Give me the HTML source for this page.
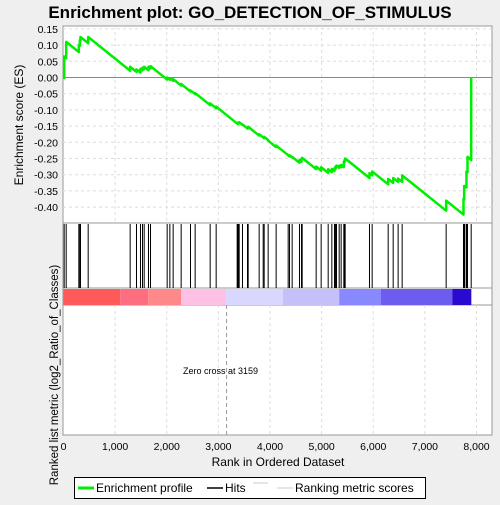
<!DOCTYPE html>
<html><head><meta charset="utf-8"><style>
body{margin:0;background:#efefef;font-family:"Liberation Sans",sans-serif}
svg text{font-family:"Liberation Sans",sans-serif}
</style></head><body>
<svg id="chart" width="500" height="500" viewBox="0 0 500 500" xmlns="http://www.w3.org/2000/svg">
<rect x="0" y="0" width="500" height="500" fill="#efefef"/>
<text x="250" y="18" text-anchor="middle" font-size="17" font-weight="bold" fill="#000">Enrichment plot: GO_DETECTION_OF_STIMULUS</text>
<rect x="63" y="26" width="429" height="197" fill="#fff" stroke="#999"/>
<rect x="63" y="223" width="429" height="65" fill="#fff" stroke="#999"/>
<rect x="63" y="288" width="429" height="17" fill="#fff" stroke="#999"/>
<rect x="63" y="305" width="429" height="130" fill="#fff" stroke="#999"/>
<g id="grid"></g>
<g id="bar"></g>
<g id="hits"></g>
<g id="es"></g>
<g id="axes"></g>
<text x="183" y="374" font-size="9" fill="#000">Zero cross at 3159</text>
<text x="278" y="466" text-anchor="middle" font-size="12" fill="#000">Rank in Ordered Dataset</text>
<text transform="translate(23,125) rotate(-90)" text-anchor="middle" font-size="12" fill="#000">Enrichment score (ES)</text>
<text transform="translate(58,375) rotate(-90)" text-anchor="middle" font-size="11.5" fill="#000">Ranked list metric (log2_Ratio_of_Classes)</text>
<g>
<rect x="74.5" y="477.5" width="351" height="21" fill="#fff" stroke="#000"/>
<line x1="78" y1="488" x2="94" y2="488" stroke="#00ee00" stroke-width="3"/>
<text x="96" y="492" font-size="12">Enrichment profile</text>
<line x1="207" y1="488" x2="223" y2="488" stroke="#000" stroke-width="1.5"/>
<text x="225" y="492" font-size="12">Hits</text>
<line x1="253" y1="483" x2="268" y2="483" stroke="#ccc"/>
<line x1="277" y1="488" x2="293" y2="488" stroke="#ccc"/>
<text x="295" y="492" font-size="12">Ranking metric scores</text>
</g>
</svg>
<script>
const hitRanks=[13,52,297,316,329,478,1291,1414,1491,1530,1563,1646,1685,2008,2060,2124,2279,2460,2550,2841,2957,3364,3377,3390,3403,3467,3564,3577,3790,3868,3887,3964,4119,4352,4378,4429,4571,4610,4623,4894,4991,5127,5198,5249,5268,5288,5340,5378,5430,5443,5456,5927,5979,6289,6386,6482,6560,7412,7748,7761,7774,7806,7826,7897];
const esAfterHit=[0.065,0.11,0.10,0.115,0.125,0.125,0.033,0.025,0.027,0.03,0.033,0.033,0.035,0.0,-0.002,-0.005,-0.02,-0.04,-0.048,-0.08,-0.09,-0.142,-0.14,-0.139,-0.138,-0.145,-0.155,-0.152,-0.175,-0.185,-0.183,-0.195,-0.21,-0.24,-0.24,-0.245,-0.255,-0.25,-0.248,-0.275,-0.277,-0.283,-0.282,-0.28,-0.275,-0.272,-0.272,-0.27,-0.26,-0.255,-0.25,-0.295,-0.29,-0.313,-0.31,-0.312,-0.302,-0.38,-0.375,-0.335,-0.335,-0.29,-0.245,-0.255];
const esEnd=0.0;
const decayPerRank=0.000128;
const xTicks=[0,1000,2000,3000,4000,5000,6000,7000,8000];
const xTickLabels=["0","1,000","2,000","3,000","4,000","5,000","6,000","7,000","8,000"];
const yTicks=[0.15,0.10,0.05,0.00,-0.05,-0.10,-0.15,-0.20,-0.25,-0.30,-0.35,-0.40];
const yTickLabels=["0.15","0.10","0.05","0.00","-0.05","-0.10","-0.15","-0.20","-0.25","-0.30","-0.35","-0.40"];
const barBreaks=[0,1100,1640,2280,3150,4250,5340,6150,7530,7900];
const barColors=["#ff5a5a","#ff6e80","#ff8888","#ffc0e6","#d8d8ff","#c6c0fa","#8888ff","#6c5cf0","#2a0ad0"];
const zeroCross=3159;
const NS="http://www.w3.org/2000/svg";
function X(r){return 63.5+r*0.051625;}
function Y(v){return 77.5-v*324;}
function mk(tag,attrs,parent){const e=document.createElementNS(NS,tag);for(const k in attrs)e.setAttribute(k,attrs[k]);document.getElementById(parent).appendChild(e);return e;}
xTicks.forEach((t,i)=>{if(i==0)return;
 const g=mk('line',{x1:X(t),x2:X(t),y1:26,y2:223,stroke:'#ddd','stroke-dasharray':'3,3'},'grid');
 
 
 const g2=mk('line',{x1:X(t),x2:X(t),y1:305,y2:435,stroke:'#ddd','stroke-dasharray':'3,3'},'grid');
 
 
});
yTicks.forEach((t,i)=>{
 const g=mk('line',{x1:63,x2:492,y1:Y(t),y2:Y(t),stroke:t===0?'#888':'#ddd','stroke-dasharray':t===0?'':'3,3'},'grid');
 
 
 const tx=mk('text',{x:58,y:Y(t)+4,'text-anchor':'end','font-size':'10.5',fill:'#000'},'axes');
 tx.textContent=yTickLabels[i];
 
 
});
xTicks.forEach((t,i)=>{
 const tx=mk('text',{x:X(t),y:450,'text-anchor':'middle','font-size':'10.5',fill:'#000'},'axes');
 tx.textContent=xTickLabels[i];
 
 
});
const zc=mk('line',{x1:X(zeroCross),x2:X(zeroCross),y1:305,y2:435,stroke:'#999','stroke-dasharray':'4,3'},'grid');


for(let i=0;i<barColors.length;i++){
 const r=mk('rect',{x:X(barBreaks[i]),y:289,width:X(barBreaks[i+1])-X(barBreaks[i]),height:16,fill:barColors[i]},'bar');
 
 
}
hitRanks.forEach(h=>{
 const l=mk('line',{x1:X(h),x2:X(h),y1:224,y2:288,stroke:'#000','stroke-width':1},'hits');
 
 
});
let pts=[[X(0),Y(0)]];let prevR=0,prevV=0;
hitRanks.forEach((h,i)=>{
 const pre=prevV-decayPerRank*(h-prevR);
 pts.push([X(h),Y(pre)]);pts.push([X(h),Y(esAfterHit[i])]);
 prevR=h;prevV=esAfterHit[i];
});
pts.push([X(prevR),Y(esEnd)]);
const pl=mk('polyline',{points:pts.map(p=>p[0].toFixed(2)+','+p[1].toFixed(2)).join(' '),fill:'none',stroke:'#00ee00','stroke-width':2.5,'stroke-linejoin':'round'},'es');


</script>
</body></html>
